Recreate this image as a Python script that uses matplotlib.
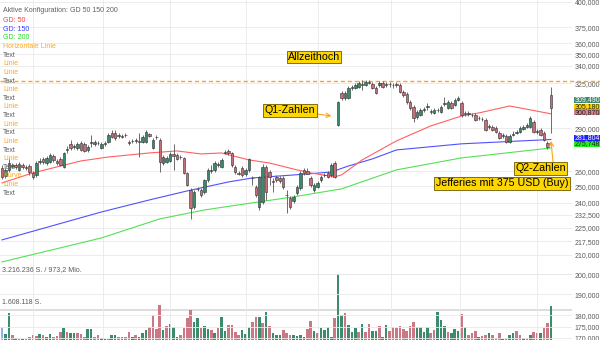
import matplotlib.pyplot as plt
from matplotlib.patches import Rectangle
from matplotlib.ticker import NullLocator
import numpy as np

plt.rcParams['font.family'] = ['Liberation Sans', 'DejaVu Sans']

# Daily candles (USD)
opens = [262.1, 256.8, 260.8, 263.4, 264.1, 260.8, 264.1, 262.7, 263.4, 258.8,
         257.5, 266.1, 268.2, 265.4, 266.1, 270.2, 266.8, 268.2, 262.7, 274.4,
         278.7, 276.5, 275.8, 279.4, 278.7, 274.4, 279.4, 278.7, 279.4, 275.8,
         278.7, 280.1, 286.6, 286.6, 285.1, 284.4, 285.1, 280.1, 280.8, 281.5,
         280.8, 280.1, 280.1, 285.8, 275.8, 283.7, 281.5, 265.4, 266.1, 266.8,
         271.6, 270.9, 269.5, 268.9, 258.8, 247.8, 237.3, 248.5, 247.8, 246.6,
         254.2, 260.1, 260.8, 264.1, 262.7, 272.3, 273.7, 272.3, 262.7, 258.8,
         262.1, 258.1, 260.8, 255.5, 249.7, 237.3, 240.4, 262.7, 259.4, 253.6,
         256.2, 255.5, 255.5, 244.7, 242.8, 241.0, 245.9, 249.1, 260.8, 260.1,
         255.5, 247.8, 249.7, 254.2, 257.5, 258.8, 257.5, 265.4, 292.4, 317.2,
         313.2, 313.2, 321.4, 321.4, 322.2, 323.8, 323.8, 325.5, 324.6, 321.4,
         323.8, 325.5, 323.8, 324.6, 323.8, 324.6, 323.8, 318.1, 316.4, 310.0,
         306.1, 298.5, 300.0, 303.8, 306.1, 303.0, 301.5, 303.8, 302.3, 308.5,
         305.4, 309.3, 307.7, 311.6, 309.3, 301.5, 300.8, 300.0, 300.0, 297.7,
         297.0, 296.2, 291.0, 291.0, 290.2, 286.6, 284.4, 284.4, 280.1, 285.1,
         286.6, 287.3, 289.5, 291.0, 291.0, 294.7, 287.3, 288.7, 286.6, 279.4,
         315.6]
highs = [264.1, 262.1, 268.9, 265.4, 265.4, 266.1, 265.4, 264.1, 264.8, 260.1,
         266.8, 268.9, 269.5, 270.2, 272.3, 271.6, 268.2, 269.5, 273.0, 277.2,
         281.5, 278.7, 280.1, 280.8, 280.1, 277.9, 285.1, 281.5, 280.8, 280.1,
         280.8, 286.6, 288.7, 288.7, 286.6, 285.8, 286.6, 281.5, 282.2, 282.9,
         286.6, 285.1, 288.7, 286.6, 283.0, 285.1, 283.0, 270.9, 270.2, 273.0,
         278.7, 272.3, 270.9, 269.5, 259.4, 249.1, 247.8, 249.7, 249.1, 254.9,
         262.1, 264.1, 266.8, 266.1, 268.9, 274.4, 275.1, 273.0, 264.1, 260.1,
         263.4, 262.1, 268.9, 256.8, 251.0, 256.8, 264.8, 264.1, 260.8, 255.5,
         257.5, 256.8, 256.8, 247.8, 244.1, 244.7, 251.0, 260.1, 262.1, 262.1,
         256.8, 252.3, 253.6, 257.5, 258.8, 260.1, 265.4, 266.8, 310.8, 318.9,
         318.9, 323.0, 323.8, 325.5, 327.2, 328.0, 328.0, 328.0, 326.3, 323.0,
         327.2, 327.2, 326.3, 326.3, 325.5, 326.3, 325.5, 319.7, 318.1, 311.6,
         307.7, 303.8, 305.4, 306.1, 309.3, 304.6, 305.4, 305.4, 307.7, 314.0,
         311.6, 310.8, 313.2, 314.8, 310.8, 303.0, 303.0, 301.5, 301.5, 299.2,
         298.5, 297.7, 293.2, 292.4, 291.7, 288.0, 286.6, 285.8, 285.8, 288.0,
         288.7, 291.7, 292.4, 294.0, 299.2, 296.2, 289.5, 290.2, 288.0, 280.8,
         322.2]
lows = [254.9, 255.5, 259.4, 262.1, 261.4, 260.1, 261.4, 260.8, 257.5, 254.9,
        256.2, 264.8, 264.8, 264.1, 265.4, 266.1, 264.1, 263.4, 262.1, 272.3,
        274.4, 275.1, 274.4, 273.7, 273.0, 273.0, 276.5, 277.2, 277.9, 275.1,
        277.2, 279.4, 283.0, 281.5, 283.0, 283.0, 283.7, 277.9, 279.4, 279.4,
        269.5, 279.4, 279.4, 283.7, 275.1, 282.2, 259.4, 264.1, 265.4, 266.1,
        260.8, 267.5, 268.2, 258.1, 250.4, 230.2, 236.1, 247.2, 243.5, 245.3,
        252.9, 258.8, 259.4, 262.7, 262.1, 271.6, 270.9, 262.7, 258.1, 257.5,
        256.2, 256.8, 259.4, 251.0, 243.5, 235.5, 239.1, 241.6, 251.0, 246.6,
        252.9, 252.3, 248.5, 233.7, 236.1, 239.8, 244.7, 247.8, 257.5, 258.1,
        249.7, 246.6, 249.1, 252.9, 256.2, 255.5, 256.2, 255.5, 291.7, 311.6,
        311.6, 312.4, 319.7, 320.5, 321.4, 319.7, 323.0, 324.6, 320.5, 316.4,
        322.2, 321.4, 322.2, 322.2, 321.4, 322.2, 317.2, 314.0, 308.5, 303.8,
        294.7, 297.0, 299.2, 302.3, 303.8, 300.8, 300.8, 302.3, 301.5, 306.9,
        304.6, 304.6, 306.9, 310.8, 298.5, 299.2, 299.2, 298.5, 295.5, 296.2,
        295.5, 288.0, 289.5, 288.0, 286.6, 282.2, 283.0, 279.4, 279.4, 284.4,
        285.8, 286.6, 288.7, 290.2, 290.2, 286.6, 285.8, 284.4, 280.8, 275.1,
        286.6]
closes = [256.2, 260.8, 265.4, 264.1, 262.7, 264.8, 262.7, 262.1, 259.4, 256.2,
          265.4, 266.8, 266.1, 268.9, 270.9, 267.5, 265.4, 264.1, 272.3, 275.1,
          275.8, 277.2, 278.7, 274.4, 273.7, 276.5, 280.1, 280.1, 279.0, 278.7,
          279.4, 285.1, 283.7, 283.0, 284.4, 283.7, 284.7, 279.4, 280.4, 280.8,
          280.1, 283.7, 287.3, 284.4, 281.5, 283.3, 266.1, 269.5, 268.9, 271.6,
          270.2, 268.2, 269.2, 258.8, 251.0, 236.7, 246.6, 248.2, 244.7, 254.2,
          260.8, 260.8, 265.4, 264.8, 267.5, 273.0, 272.3, 264.1, 259.4, 258.4,
          257.5, 260.8, 268.2, 255.2, 244.7, 256.2, 262.7, 246.6, 256.2, 252.9,
          254.2, 253.6, 249.7, 244.4, 237.3, 243.5, 249.7, 258.8, 258.8, 258.1,
          251.0, 251.0, 252.3, 256.2, 257.2, 256.2, 264.1, 256.2, 310.0, 313.2,
          317.2, 321.4, 322.2, 323.8, 325.5, 324.6, 326.3, 326.3, 321.4, 317.2,
          325.5, 322.2, 324.6, 324.2, 323.4, 323.8, 318.1, 315.6, 310.0, 305.4,
          297.7, 302.3, 303.8, 304.6, 306.5, 302.3, 303.8, 303.4, 306.1, 309.3,
          310.0, 305.4, 311.6, 313.2, 300.0, 300.8, 301.5, 299.6, 296.2, 297.3,
          296.6, 288.7, 291.7, 288.7, 287.3, 283.0, 284.7, 280.1, 284.4, 285.8,
          287.3, 290.2, 291.0, 292.4, 297.7, 287.3, 288.0, 285.1, 281.5, 276.5,
          305.18]

# Volume in million shares, colour per bar (g = up, r = down, b = selected)
volume_m = [0.86, 0.55, 1.46, 0.49, 0.35, 0.33, 0.31, 0.31, 0.40, 0.49,
            0.45, 0.52, 0.49, 0.40, 0.54, 0.42, 0.45, 0.64, 0.79, 0.64,
            0.59, 0.57, 0.57, 0.54, 0.42, 0.75, 0.75, 0.42, 0.49, 0.34,
            0.31, 0.30, 0.49, 0.49, 0.39, 0.42, 0.42, 0.64, 0.42, 0.49,
            0.40, 0.59, 0.71, 0.86, 1.38, 0.75, 1.83, 0.71, 0.89, 0.97,
            0.86, 0.42, 0.50, 0.79, 1.24, 1.61, 1.09, 1.24, 0.79, 0.89,
            0.75, 0.71, 0.57, 0.79, 1.28, 0.68, 0.94, 0.94, 0.61, 0.49,
            0.71, 0.54, 0.86, 1.09, 1.31, 1.28, 1.01, 1.50, 0.89, 0.57,
            0.49, 0.49, 0.71, 0.59, 0.49, 0.49, 0.45, 0.49, 0.42, 0.75,
            1.13, 0.68, 0.59, 0.82, 0.71, 0.86, 0.42, 1.26, 3.216236, 1.38,
            1.46, 0.94, 0.64, 0.82, 0.64, 0.98, 0.64, 0.98, 0.67, 0.67,
            0.89, 0.39, 0.94, 0.67, 0.84, 0.79, 0.89, 0.75, 0.67, 0.89,
            1.07, 0.84, 0.84, 0.64, 0.84, 0.57, 0.71, 1.53, 1.16, 0.89,
            0.61, 0.59, 0.75, 0.67, 1.42, 0.86, 0.49, 0.57, 0.68, 0.42,
            0.45, 0.48, 0.57, 0.48, 0.34, 0.57, 0.30, 0.34, 0.48, 0.57,
            0.67, 0.50, 0.37, 0.34, 0.49, 0.63, 0.59, 0.59, 0.82, 1.01,
            1.79]
volume_dir = ("bggrgrgrrr" "rgrggrrrgr" "ggrrrggrrg" "grggrrrrgr"
              "gggrrrrgrg" "ggrrrrggrg" "grgrggrrrr" "gggrrgrgrg"
              "ggrrrggggr" "rgrggggrgg" "rgggrgrrgg" "rggrrrrrrr"
              "rggggrrggg" "rgggrgrrrg" "rrgrrrgrgg" "rrgrgrrgrr" "g")

# moving averages (candle index, value)
gd50_idx = [0, 9, 23, 31, 43, 51, 58, 64, 72, 78, 86, 90, 97, 99, 105, 115, 125, 134, 139, 148, 160]
gd50_val = [252.3, 258.8, 266.8, 269.5, 272.3, 273.7, 271.6, 272.3, 267.5, 265.4, 260.8,
            258.8, 256.2, 257.5, 267.5, 280.8, 291.7, 299.2, 301.5, 306.9, 300.87]
gd150_idx = [0, 29, 43, 54, 66, 73, 81, 89, 96, 101, 108, 115, 134, 160]
gd150_val = [218.2, 234.3, 241.6, 247.2, 252.9, 255.5, 256.8, 258.1, 259.4, 263.4,
             268.2, 274.4, 278.7, 281.804]
gd200_idx = [0, 29, 46, 59, 73, 85, 99, 115, 134, 160]
gd200_val = [206.3, 219.3, 230.2, 235.5, 239.8, 243.5, 248.5, 260.8, 268.9, 275.748]

ath_level = 326.8
quote_value = 309.49
price_ticks = [400, 375, 360, 350, 340, 325, 290, 260, 250, 240, 232.5,
               225, 217.5, 210, 200, 190, 180, 175, 170]
month_starts = [9, 29.5, 49, 71, 92, 113.5, 133.5, 156]

legend_items = [("Aktive Konfiguration: GD 50 150 200", '#5f5f5f'),
                ("GD: 50", '#ff3b3b'), ("GD: 150", '#3b3bff'), ("GD: 200", '#22dd22'),
                ("Horizontale Linie", '#ffa51f'), ("Text", '#5f5f5f'),
                ("Linie", '#ffa51f'), ("Linie", '#ffa51f'), ("Text", '#5f5f5f'),
                ("Linie", '#ffa51f'), ("Text", '#5f5f5f'), ("Linie", '#ffa51f'),
                ("Text", '#5f5f5f'), ("Linie", '#ffa51f'), ("Text", '#5f5f5f'),
                ("Linie", '#ffa51f'), ("Text", '#5f5f5f'), ("Linie", '#ffa51f'),
                ("Text", '#5f5f5f'), ("Kurve", '#ffa51f'), ("Linie", '#ffa51f'),
                ("Text", '#5f5f5f')]

W, H = 600, 340
PLOT_W = 572
GREEN, RED = '#3a8a6a', '#c66f7b'
ORANGE = '#ffa31a'

n = len(closes)
x = np.arange(n)
o = np.array(opens)
c = np.array(closes)
vols = np.array(volume_m) * 1e6
vmax = vols.max()


def fx(px):
    return px / W


def fy(py):
    return 1 - py / H


fig = plt.figure(figsize=(6, 3.4), dpi=100)
fig.patch.set_facecolor('white')

x_lim = (-2 / 3.43, (PLOT_W - 2) / 3.43)

# volume pane (bottom, zero line sits just below the image edge)
ax_vol = fig.add_axes([0, fy(346), PLOT_W / W, 72 / H])
ax_vol.set_facecolor('none')
vcol = {'g': '#3b8c6d', 'r': '#cc7884', 'b': '#8db2ea'}
ax_vol.bar(x, vols, width=0.75, color=[vcol[d] for d in volume_dir], zorder=2)
ax_vol.axhline(vmax, color='#dadada', lw=1.3, zorder=1)
ax_vol.axhline(vmax / 2, color='#dadada', lw=1.3, zorder=1)
ax_vol.set_xlim(*x_lim)
ax_vol.set_ylim(0, vmax)
ax_vol.axis('off')

# price pane
ax = fig.add_axes([0, 0, PLOT_W / W, 1])
ax.set_facecolor('none')
ax.set_zorder(ax_vol.get_zorder() + 1)
ax.set_yscale('log')
ax.set_ylim(169.1, 402.0)
ax.set_xlim(*x_lim)
ax.set_yticks(price_ticks)
ax.yaxis.set_minor_locator(NullLocator())
ax.set_yticklabels([f"{v:.3f}".replace('.', ',') for v in price_ticks])
ax.set_xticks(month_starts)
ax.set_xticklabels([])
ax.yaxis.tick_right()
ax.tick_params(length=0, pad=2, labelsize=5, labelcolor='#5a5a5a')
ax.grid(True, color='#e9e9e9', lw=0.6)
ax.set_axisbelow(True)
for s in ax.spines.values():
    s.set_visible(False)

ax.plot(gd200_idx, gd200_val, color='#55e055', lw=0.8, zorder=2)
ax.plot(gd150_idx, gd150_val, color='#5050ff', lw=0.8, zorder=2)
ax.plot(gd50_idx, gd50_val, color='#ff6060', lw=0.8, zorder=2)

ax.axhline(ath_level, xmin=0, xmax=W / PLOT_W, color=ORANGE, lw=1.0,
           ls=(0, (3, 2)), clip_on=False, zorder=2)

# candles
ax.vlines(x, lows, highs, color='#555555', lw=0.6, zorder=3)
body_col = [GREEN if cc >= oo else RED for oo, cc in zip(o, c)]
ax.bar(x, np.abs(c - o), bottom=np.minimum(o, c), width=0.72, color=body_col,
       edgecolor='#2e2e2e', linewidth=0.4, zorder=4)

# legend list on the left
for k, (label, col) in enumerate(legend_items):
    ypx = 10 if k == 0 else 20.7 + 8.62 * (k - 1)
    fig.text(fx(3), fy(ypx), label, fontsize=5, color=col, ha='left', va='center')

# volume captions
fig.text(fx(2), fy(270), f"{int(vmax):,}".replace(',', '.') + " S. / 973,2 Mio.",
         fontsize=5, color='#5a5a5a', ha='left', va='center')
fig.text(fx(2), fy(303), f"{int(round(vmax / 2)):,}".replace(',', '.') + " S.",
         fontsize=5, color='#5a5a5a', ha='left', va='center')

# value tags on the price scale
tags = [(quote_value, 100.0, '#3d8b6e', 'white'),
        (closes[-1], 106.7, '#ffd500', '#222222'),
        (gd50_val[-1], 112.3, '#d4858f', '#222222'),
        (gd150_val[-1], 138.0, '#1c1cff', 'white'),
        (gd200_val[-1], 144.0, '#22ee22', '#222222')]
for val, ypx, bg, fg in tags:
    fig.add_artist(Rectangle((fx(574), fy(ypx + 3.0)), 26 / W, 6.0 / H,
                             transform=fig.transFigure, facecolor=bg,
                             edgecolor='none', zorder=5))
    fig.text(fx(587), fy(ypx), f"{val:.3f}".replace('.', ','), fontsize=5,
             color=fg, ha='center', va='center', zorder=6)

box = dict(boxstyle='square,pad=0.12', fc='#ffd700', ec='#6b5a00', lw=0.6)
fp = 'figure pixels'
ax.annotate("Allzeithoch", xy=(314, H - 57), xycoords=fp, ha='center',
            va='center', fontsize=7.7, bbox=box, zorder=7)
ax.annotate("Q1-Zahlen", xy=(331.5, H - 116), xycoords=fp,
            xytext=(290, H - 110.3), textcoords=fp, ha='center', va='center',
            fontsize=7.7, bbox=box, zorder=7,
            arrowprops=dict(arrowstyle='->', color=ORANGE, lw=0.8,
                            shrinkA=0, shrinkB=0))
ax.annotate("Q2-Zahlen", xy=(551, H - 141), xycoords=fp,
            xytext=(540.5, H - 168.3), textcoords=fp, ha='center', va='center',
            fontsize=7.7, bbox=box, zorder=7,
            arrowprops=dict(arrowstyle='->', color=ORANGE, lw=0.8,
                            shrinkA=0, shrinkB=0, relpos=(0.75, 1.0)))
ax.annotate("Jefferies mit 375 USD (Buy)", xy=(502, H - 183.3), xycoords=fp,
            ha='center', va='center', fontsize=7.7, bbox=box, zorder=7)

fig.savefig('out.png', dpi=100, facecolor='white')
